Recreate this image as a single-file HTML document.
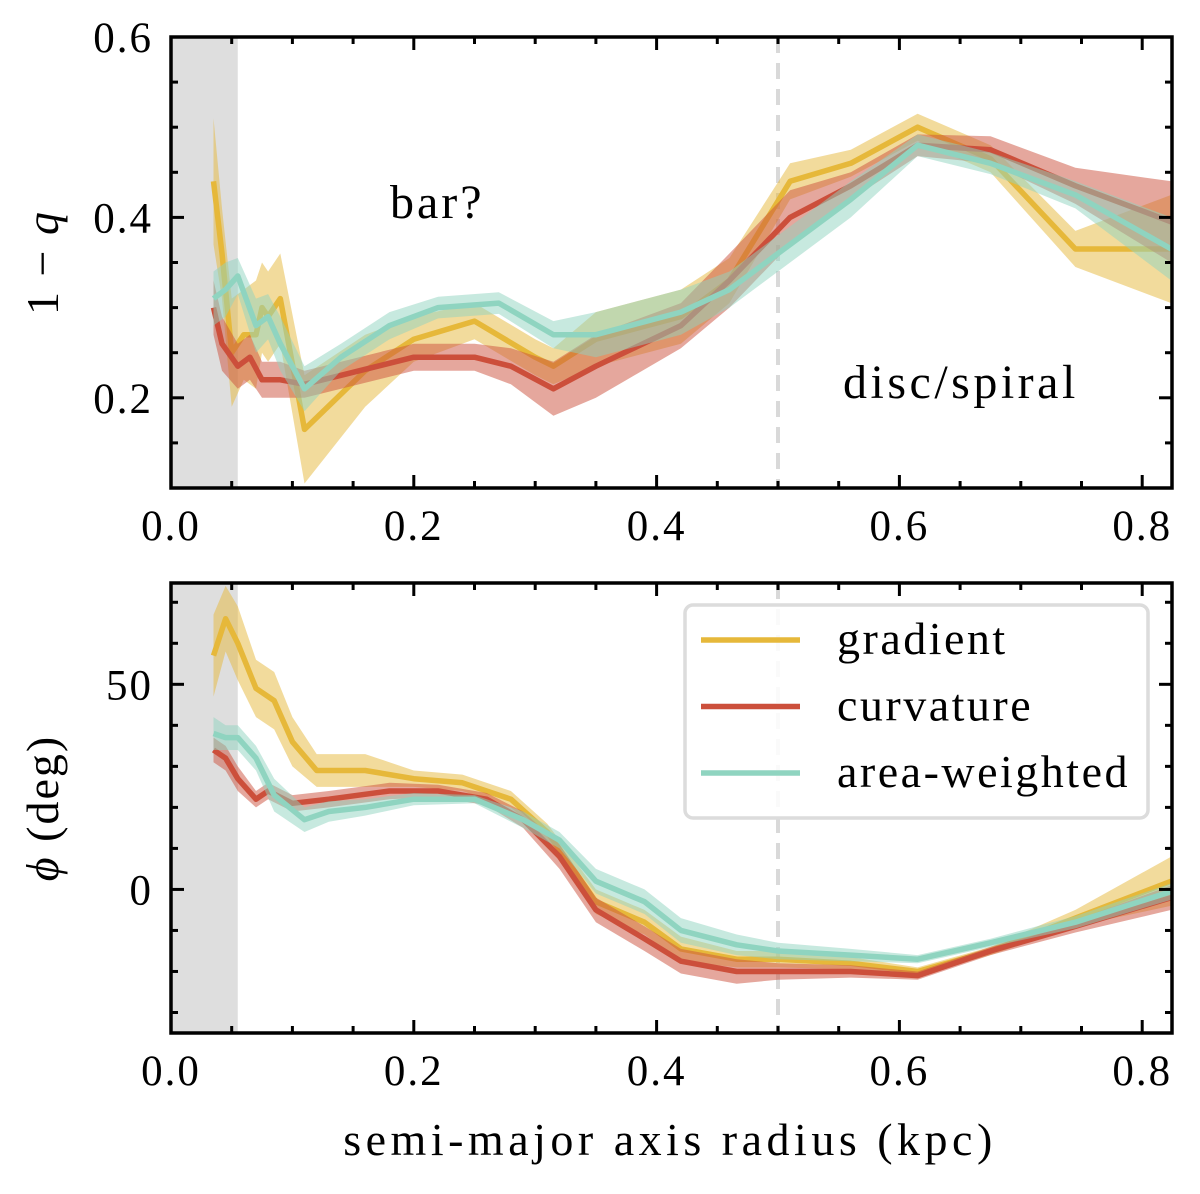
<!DOCTYPE html>
<html><head><meta charset="utf-8"><style>
body{margin:0;background:#fff;}
svg text{font-family:"Liberation Serif","DejaVu Serif",serif;fill:#000;}
</style></head><body>
<svg id="chart" width="1200" height="1189" viewBox="0 0 1200 1189" xmlns="http://www.w3.org/2000/svg"></svg>
<script>
// ---- data ----
const xTickLabels = ["0.0","0.2","0.4","0.6","0.8"];
const xTicks = [0,0.2,0.4,0.6,0.8];
const qTicks = [0.2,0.4,0.6];
const qTickLabels = ["0.2","0.4","0.6"];
const phiTicks = [0,50];
const phiTickLabels = ["0","50"];
const seriesNames = ["gradient","curvature","area-weighted"];

const gradQx = [0.035,0.042,0.05,0.06,0.07,0.075,0.08,0.09,0.11,0.16,0.2,0.25,0.3,0.315,0.35,0.42,0.46,0.51,0.56,0.615,0.675,0.745,0.824];
const gradQ  = [0.44,0.36,0.25,0.27,0.27,0.30,0.29,0.31,0.165,0.23,0.265,0.285,0.245,0.235,0.265,0.29,0.33,0.44,0.46,0.50,0.465,0.365,0.365];
const gradQe = [0.07,0.05,0.06,0.05,0.06,0.05,0.05,0.05,0.06,0.04,0.025,0.02,0.02,0.02,0.03,0.03,0.025,0.02,0.015,0.015,0.015,0.02,0.06];
const curvQx = [0.035,0.042,0.055,0.065,0.075,0.09,0.11,0.14,0.2,0.25,0.28,0.315,0.35,0.42,0.46,0.51,0.56,0.615,0.675,0.745,0.824];
const curvQ  = [0.30,0.26,0.235,0.245,0.22,0.22,0.215,0.225,0.245,0.245,0.235,0.21,0.235,0.28,0.33,0.40,0.435,0.48,0.475,0.435,0.395];
const curvQe = [0.03,0.03,0.025,0.025,0.02,0.02,0.015,0.015,0.015,0.015,0.02,0.03,0.035,0.025,0.03,0.03,0.015,0.012,0.015,0.02,0.045];
const areaQx = [0.035,0.045,0.055,0.07,0.08,0.09,0.11,0.14,0.18,0.22,0.27,0.315,0.35,0.42,0.46,0.51,0.56,0.615,0.675,0.745,0.824];
const areaQ  = [0.31,0.32,0.335,0.28,0.29,0.26,0.21,0.245,0.28,0.30,0.305,0.27,0.27,0.295,0.32,0.37,0.42,0.48,0.46,0.425,0.365];
const areaQe = [0.03,0.03,0.02,0.03,0.025,0.03,0.025,0.015,0.015,0.012,0.012,0.015,0.025,0.025,0.02,0.02,0.02,0.012,0.012,0.015,0.035];

const gradPx = [0.035,0.045,0.055,0.07,0.085,0.1,0.12,0.16,0.2,0.24,0.28,0.31,0.35,0.39,0.42,0.466,0.5,0.56,0.615,0.675,0.745,0.824];
const gradP  = [57,66,60,49,46,36,29,29,27,26,22,14,-3,-8,-14.5,-17,-17,-18,-20,-15,-7,2];
const gradPe = [10,8,9,7,7,6,4,4,2,2,2,2,3,3,3,2,2,1.5,1,1,2,6];
const curvPx = [0.035,0.045,0.055,0.07,0.08,0.1,0.13,0.18,0.22,0.26,0.29,0.32,0.35,0.39,0.42,0.466,0.5,0.56,0.615,0.675,0.745,0.824];
const curvP  = [34,32,27,22,24,21,22,24,24,22,17,8,-5,-12,-17.5,-20,-20,-20,-21,-15,-9,-2];
const curvPe = [3,3,3,2,2,2,2,2,1.5,1.5,2,3,3,3,3,3,2,1.5,1,1,1.5,3];
const areaPx = [0.035,0.045,0.055,0.07,0.085,0.11,0.13,0.16,0.2,0.25,0.29,0.32,0.35,0.39,0.42,0.466,0.5,0.56,0.615,0.675,0.745,0.824];
const areaP  = [38,37,37,32,23,17,19,20,22,22,17,12,2,-3,-10,-13.5,-15,-16,-17,-13,-8,-0.5];
const areaPe = [4,3,3,3,4,3,2.5,2,1.5,1,2,2,3,3,3,2.5,2,1.5,1,1,1.5,2];

// ---- layout ----
const NS="http://www.w3.org/2000/svg";
const svg=document.getElementById('chart');
const X0=171, X1=1172;
const xMin=0, xMax=(X1-X0)/1214;
const sx=v=>X0+(v-xMin)/(xMax-xMin)*(X1-X0);
const top1={t:37,b:488,min:0.1,max:0.6};
const top2={t:583,b:1033,min:-35,max:74.7};
const sy1=v=>top1.b-(v-top1.min)/(top1.max-top1.min)*(top1.b-top1.t);
const sy2=v=>top2.b-(v-top2.min)/(top2.max-top2.min)*(top2.b-top2.t);
const colors=["#e6b83a","#cc4f3b","#8fd4c0"];

function el(tag,attrs,parent){const e=document.createElementNS(NS,tag);for(const k in attrs)e.setAttribute(k,attrs[k]);(parent||svg).appendChild(e);return e;}

function panel(P,name){
  const g=el('g',{});
  
  
  const sh=el('rect',{x:X0,y:P.t,width:sx(0.055)-X0,height:P.b-P.t,fill:'#dedede'},g);
  
  
  const dl=el('line',{x1:sx(0.5),x2:sx(0.5),y1:P.t,y2:P.b,stroke:'#d9d9d9','stroke-width':4,'stroke-dasharray':'16,10'},g);
  
  
  return g;
}
function frame(P,sy,yt,ytl,yMinorStep,ylabel,ylabelName,g){
  el('rect',{x:X0,y:P.t,width:X1-X0,height:P.b-P.t,fill:'none',stroke:'#000','stroke-width':3.5},g);
  for(let v=0;v<=xMax+1e-9;v+=0.05){
    const major=Math.abs(v/0.2-Math.round(v/0.2))<1e-6, L=major?13:7, x=sx(v);
    el('line',{x1:x,x2:x,y1:P.b,y2:P.b-L,stroke:'#000','stroke-width':3},g);
    el('line',{x1:x,x2:x,y1:P.t,y2:P.t+L,stroke:'#000','stroke-width':3},g);
  }
  xTicks.forEach((v,i)=>{const t=el('text',{x:sx(v),y:P.b+52,'font-size':43,'letter-spacing':2,'text-anchor':'middle'},g);t.textContent=xTickLabels[i];
    
    });
  const start=Math.ceil(P.min/yMinorStep)*yMinorStep;
  for(let v=start;v<=P.max+1e-9;v+=yMinorStep){
    const major=yt.some(m=>Math.abs(m-v)<1e-6), L=major?13:7, y=sy(v);
    el('line',{x1:X0,x2:X0+L,y1:y,y2:y,stroke:'#000','stroke-width':3},g);
    el('line',{x1:X1,x2:X1-L,y1:y,y2:y,stroke:'#000','stroke-width':3},g);
  }
  yt.forEach((v,i)=>{const t=el('text',{x:X0-18,y:sy(v)+15,'font-size':43,'letter-spacing':2,'text-anchor':'end'},g);t.textContent=ytl[i];
    
    });
  const cy=(P.t+P.b)/2;
  const yl=el('text',{x:0,y:0,'font-size':46,'letter-spacing':2,'text-anchor':'middle',transform:`translate(58,${cy}) rotate(-90)`},g);
  yl.innerHTML=ylabel;
  
  
}
function series(xs,ys,es,sy,ci,g,nm){
  let d='';
  xs.forEach((x,i)=>{d+=(i?'L':'M')+sx(x).toFixed(1)+','+sy(ys[i]+es[i]).toFixed(1);});
  for(let i=xs.length-1;i>=0;i--)d+='L'+sx(xs[i]).toFixed(1)+','+sy(ys[i]-es[i]).toFixed(1);
  const b=el('path',{d:d+'Z',fill:colors[ci],'fill-opacity':0.5,stroke:'none'},g);
  
  
  const pts=xs.map((x,i)=>sx(x).toFixed(1)+','+sy(ys[i]).toFixed(1)).join(' ');
  const l=el('polyline',{points:pts,fill:'none',stroke:colors[ci],'stroke-width':5.5,'stroke-linejoin':'round'},g);
  
  
}

const g1=panel(top1,'top-panel');
series(gradQx,gradQ,gradQe,sy1,0,g1,'gradient-q');
series(curvQx,curvQ,curvQe,sy1,1,g1,'curvature-q');
series(areaQx,areaQ,areaQe,sy1,2,g1,'area-weighted-q');
frame(top1,sy1,qTicks,qTickLabels,0.05,'1 − <tspan font-style="italic">q</tspan>','y-axis-title-top',g1);
const t1=el('text',{x:390,y:218,'font-size':48,'letter-spacing':3},g1);t1.textContent='bar?';


const t2=el('text',{x:843,y:398,'font-size':48,'letter-spacing':3.5},g1);t2.textContent='disc/spiral';



const g2=panel(top2,'bottom-panel');
series(gradPx,gradP,gradPe,sy2,0,g2,'gradient-phi');
series(curvPx,curvP,curvPe,sy2,1,g2,'curvature-phi');
series(areaPx,areaP,areaPe,sy2,2,g2,'area-weighted-phi');
frame(top2,sy2,phiTicks,phiTickLabels,10,'<tspan font-style="italic">ϕ</tspan> (deg)','y-axis-title-bottom',g2);

const xl=el('text',{x:670,y:1155,'font-size':46,'letter-spacing':4.5,'text-anchor':'middle'});xl.textContent='semi-major axis radius (kpc)';



// legend
const lg=el('g',{});


el('rect',{x:685,y:605,width:463,height:213,rx:8,fill:'#fff','fill-opacity':0.85,stroke:'#dcdcdc','stroke-width':3.5},lg);
seriesNames.forEach((n,i)=>{
  const y=640+i*66.5;
  const ln=el('line',{x1:701,x2:800,y1:y,y2:y,stroke:colors[i],'stroke-width':5.5},lg);
  
  
  const t=el('text',{x:837,y:y+14,'font-size':46,'letter-spacing':2.5},lg);t.textContent=n;
  
  
});
</script>
</body></html>
